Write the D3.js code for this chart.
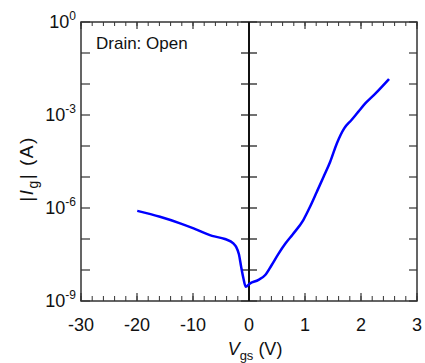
<!DOCTYPE html>
<html>
<head>
<meta charset="utf-8">
<script src="https://cdn.jsdelivr.net/npm/d3@7"></script>
<style>
  body { margin: 0; background: #fff; }
  text { font-family: "Liberation Sans", Arial, sans-serif; fill: #111; }
</style>
</head>
<body>
<div id="chart"></div>
<script>
// gate leakage, drain open
var vgs = [-19.95, -15.9, -12.3, -9.9, -6.6, -4.3, -2.8, -2.3, -1.8, -1.4, -1.0, -0.6,
           0.02, 0.17, 0.29, 0.4, 0.52, 0.65, 0.78, 0.97, 1.09, 1.21, 1.33, 1.45, 1.57, 1.70, 1.83, 1.95, 2.08, 2.26, 2.5];
var ig = [8.1e-7, 5.2e-7, 3.2e-7, 2.2e-7, 1.26e-7, 1.0e-7, 7.2e-8, 5.6e-8, 3.2e-8, 1.26e-8, 5.4e-9, 2.9e-9,
          3.7e-9, 4.8e-9, 6.9e-9, 1.4e-8, 3.2e-8, 7.1e-8, 1.4e-7, 4.1e-7, 1.1e-6, 3.3e-6, 1.0e-5, 3.1e-5, 1.23e-4, 3.7e-4, 6.9e-4, 1.26e-3, 2.4e-3, 5e-3, 1.45e-2];

var xMajor = [-30, -20, -10, 0, 1, 2, 3];
var yLabelExp = [0, -3, -6, -9];

var width = 425, height = 363;
var plotL = 81, plotR = 417, plotT = 22, plotB = 301, plotM = 249;

// split axis: -30..0 on the left half, 0..3 on the right half
var x = d3.scaleLinear().domain([-30, 0, 3]).range([plotL, plotM, plotR]);
var y = d3.scaleLog().domain([1e-9, 1]).range([plotB, plotT]);

var svg = d3.select("#chart").append("svg")
    .attr("width", width)
    .attr("height", height);

var xMinor = d3.range(-30, 0.01, 2).concat(d3.range(0.2, 3.01, 0.2));
var decades = d3.range(0, 10).map(function(d) { return Math.pow(10, -d); });

var axisColor = "#333";

// top & bottom ticks
svg.selectAll(".tminor").data(xMinor).enter().append("line")
    .attr("x1", function(d) { return x(d); }).attr("x2", function(d) { return x(d); })
    .attr("y1", plotT).attr("y2", plotT + 4)
    .attr("stroke", axisColor).attr("stroke-width", 1);
svg.selectAll(".bminor").data(xMinor).enter().append("line")
    .attr("x1", function(d) { return x(d); }).attr("x2", function(d) { return x(d); })
    .attr("y1", plotB).attr("y2", plotB - 5)
    .attr("stroke", axisColor).attr("stroke-width", 1);
svg.selectAll(".tmajor").data(xMajor).enter().append("line")
    .attr("x1", function(d) { return x(d); }).attr("x2", function(d) { return x(d); })
    .attr("y1", plotT).attr("y2", plotT + 7)
    .attr("stroke", axisColor).attr("stroke-width", 1.2);
svg.selectAll(".bmajor").data(xMajor).enter().append("line")
    .attr("x1", function(d) { return x(d); }).attr("x2", function(d) { return x(d); })
    .attr("y1", plotB).attr("y2", plotB - 8)
    .attr("stroke", axisColor).attr("stroke-width", 1.2);

// left, right and middle ticks
svg.selectAll(".lt").data(decades).enter().append("line")
    .attr("x1", plotL).attr("x2", plotL + 9)
    .attr("y1", function(d) { return y(d); }).attr("y2", function(d) { return y(d); })
    .attr("stroke", axisColor).attr("stroke-width", 1.2);
svg.selectAll(".rt").data(decades).enter().append("line")
    .attr("x1", plotR).attr("x2", plotR - 8)
    .attr("y1", function(d) { return y(d); }).attr("y2", function(d) { return y(d); })
    .attr("stroke", axisColor).attr("stroke-width", 1.2);
svg.selectAll(".mt").data(decades).enter().append("line")
    .attr("x1", plotM - 8).attr("x2", plotM + 8)
    .attr("y1", function(d) { return y(d); }).attr("y2", function(d) { return y(d); })
    .attr("stroke", "#111").attr("stroke-width", 1.2);

// frame
svg.append("rect")
    .attr("x", plotL).attr("y", plotT)
    .attr("width", plotR - plotL).attr("height", plotB - plotT)
    .attr("fill", "none").attr("stroke", axisColor).attr("stroke-width", 1.5);
svg.append("line")
    .attr("x1", plotM).attr("x2", plotM).attr("y1", plotT).attr("y2", plotB)
    .attr("stroke", "#111").attr("stroke-width", 2);

// x tick labels
svg.selectAll(".xl").data(xMajor).enter().append("text")
    .attr("x", function(d) { return x(d); })
    .attr("y", 331)
    .attr("text-anchor", "middle")
    .style("font-size", "18px")
    .text(function(d) { return d; });

// y tick labels 10^n
var yl = svg.selectAll(".yl").data(yLabelExp).enter().append("text")
    .attr("x", 76)
    .attr("y", function(d) { return y(Math.pow(10, d)) + 6; })
    .attr("text-anchor", "end")
    .style("font-size", "18px");
yl.append("tspan").text("10");
yl.append("tspan").attr("dy", -8).style("font-size", "12px").text(function(d) { return d; });

// axis titles
var yt = svg.append("text")
    .attr("transform", "translate(33,169) rotate(-90)")
    .attr("text-anchor", "middle")
    .style("font-size", "19px")
    .style("letter-spacing", "1.5px");
yt.append("tspan").text("|");
yt.append("tspan").style("font-style", "italic").text("I");
yt.append("tspan").attr("dy", 5).style("font-size", "14px").text("g");
yt.append("tspan").attr("dy", -5).text("| (A)");

var xt = svg.append("text")
    .attr("x", 255).attr("y", 355)
    .attr("text-anchor", "middle")
    .style("font-size", "18px");
xt.append("tspan").style("font-style", "italic").text("V");
xt.append("tspan").attr("dy", 5).style("font-size", "13px").text("gs");
xt.append("tspan").attr("dy", -5).text(" (V)");

svg.append("text")
    .attr("x", 96).attr("y", 49)
    .style("font-size", "17px")
    .text("Drain: Open");

// curve
var line = d3.line()
    .x(function(d, i) { return x(vgs[i]); })
    .y(function(d, i) { return y(ig[i]); })
    .curve(d3.curveMonotoneX);

svg.append("path")
    .datum(vgs)
    .attr("d", line)
    .attr("fill", "none")
    .attr("stroke", "#0000ff")
    .attr("stroke-width", 2.5);
</script>
</body>
</html>
